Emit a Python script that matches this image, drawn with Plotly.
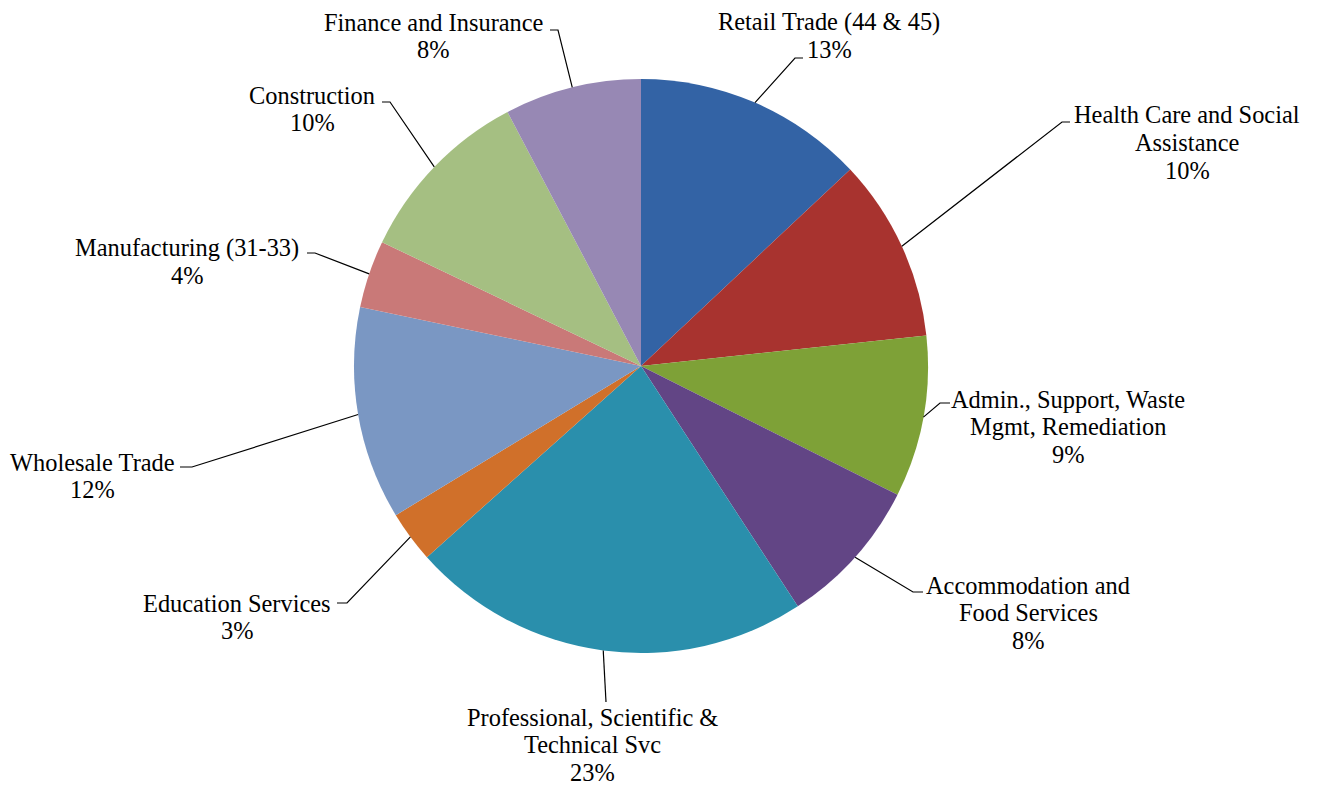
import math
import plotly.graph_objects as go

# ---- data ----
categories = [
    "Retail Trade (44 & 45)",
    "Health Care and Social Assistance",
    "Admin., Support, Waste Mgmt, Remediation",
    "Accommodation and Food Services",
    "Professional, Scientific & Technical Svc",
    "Education Services",
    "Wholesale Trade",
    "Manufacturing (31-33)",
    "Construction",
    "Finance and Insurance",
]
label_lines = [
    ["Retail Trade (44 & 45)"],
    ["Health Care and Social", "Assistance"],
    ["Admin., Support, Waste", "Mgmt, Remediation"],
    ["Accommodation and", "Food Services"],
    ["Professional, Scientific &", "Technical Svc"],
    ["Education Services"],
    ["Wholesale Trade"],
    ["Manufacturing (31-33)"],
    ["Construction"],
    ["Finance and Insurance"],
]
values = [13.0, 10.3, 9.1, 8.4, 22.6, 2.9, 12.0, 3.8, 10.2, 7.7]

# ---- styles ----
colors = ["#3363A5", "#A8332F", "#7EA137", "#624585", "#2A8FAC",
          "#D0702A", "#7A97C3", "#C97978", "#A5BF82", "#9788B4"]

W, H = 1319, 788
CX, CY, R = 641, 366, 287
FONT = dict(family="Liberation Serif", size=24.4, color="black")
LINE_STEP = 27.7

# label first-line centres (px) and leader elbow points (px)
label_pos = [(829, 22), (1187, 115), (1068, 399), (1028, 585), (592, 717),
             (237, 603), (92, 462), (187, 248), (312, 95), (433, 22)]
elbows = [((803, 58), (795, 58)), ((1070, 122), (1062, 122)),
          ((950, 403), (940, 403)), ((923, 592), (913, 592)),
          ((606, 702), (606, 702)), ((337, 603), (347, 603)),
          ((180, 467), (192, 467)), ((307, 253), (315, 253)),
          ((382, 102), (390, 102)), ((550, 30), (558, 30))]


def px(x):
    return x / W


def py(y):
    return 1 - y / H


fig = go.Figure(go.Pie(
    labels=categories,
    values=values,
    sort=False,
    direction="clockwise",
    rotation=0,
    marker=dict(colors=colors, line=dict(width=0)),
    textinfo="none",
    hoverinfo="label+percent",
    domain=dict(x=[px(CX - R), px(CX + R)], y=[py(CY + R), py(CY - R)]),
    showlegend=False,
))

total = sum(values)
cum = 0.0
shapes = []
annotations = []
for i, v in enumerate(values):
    mid = (cum + v / 2) / total * 2 * math.pi
    cum += v
    sx = CX + R * math.sin(mid)
    sy = CY - R * math.cos(mid)
    (ex, ey), (bx, by) = elbows[i]
    shapes.append(dict(
        type="path", xref="paper", yref="paper",
        path=f"M {px(sx)},{py(sy)} L {px(bx)},{py(by)} L {px(ex)},{py(ey)}",
        line=dict(color="black", width=1.2),
    ))
    pct = round(v / total * 100)
    lines = label_lines[i] + [f"{pct}%"]
    lx, ly = label_pos[i]
    for k, txt in enumerate(lines):
        annotations.append(dict(
            x=px(lx), y=py(ly + k * LINE_STEP), xref="paper", yref="paper",
            text=txt, showarrow=False,
            xanchor="center", yanchor="middle", align="center",
            font=FONT,
        ))

fig.update_layout(
    width=W, height=H,
    margin=dict(l=0, r=0, t=0, b=0),
    paper_bgcolor="white", plot_bgcolor="white",
    font=dict(family="Liberation Serif"),
    shapes=shapes, annotations=annotations,
)

fig.write_html("out.html", config={"displayModeBar": False},
               post_script="document.body.style.margin='0';document.body.style.overflow='hidden';")
